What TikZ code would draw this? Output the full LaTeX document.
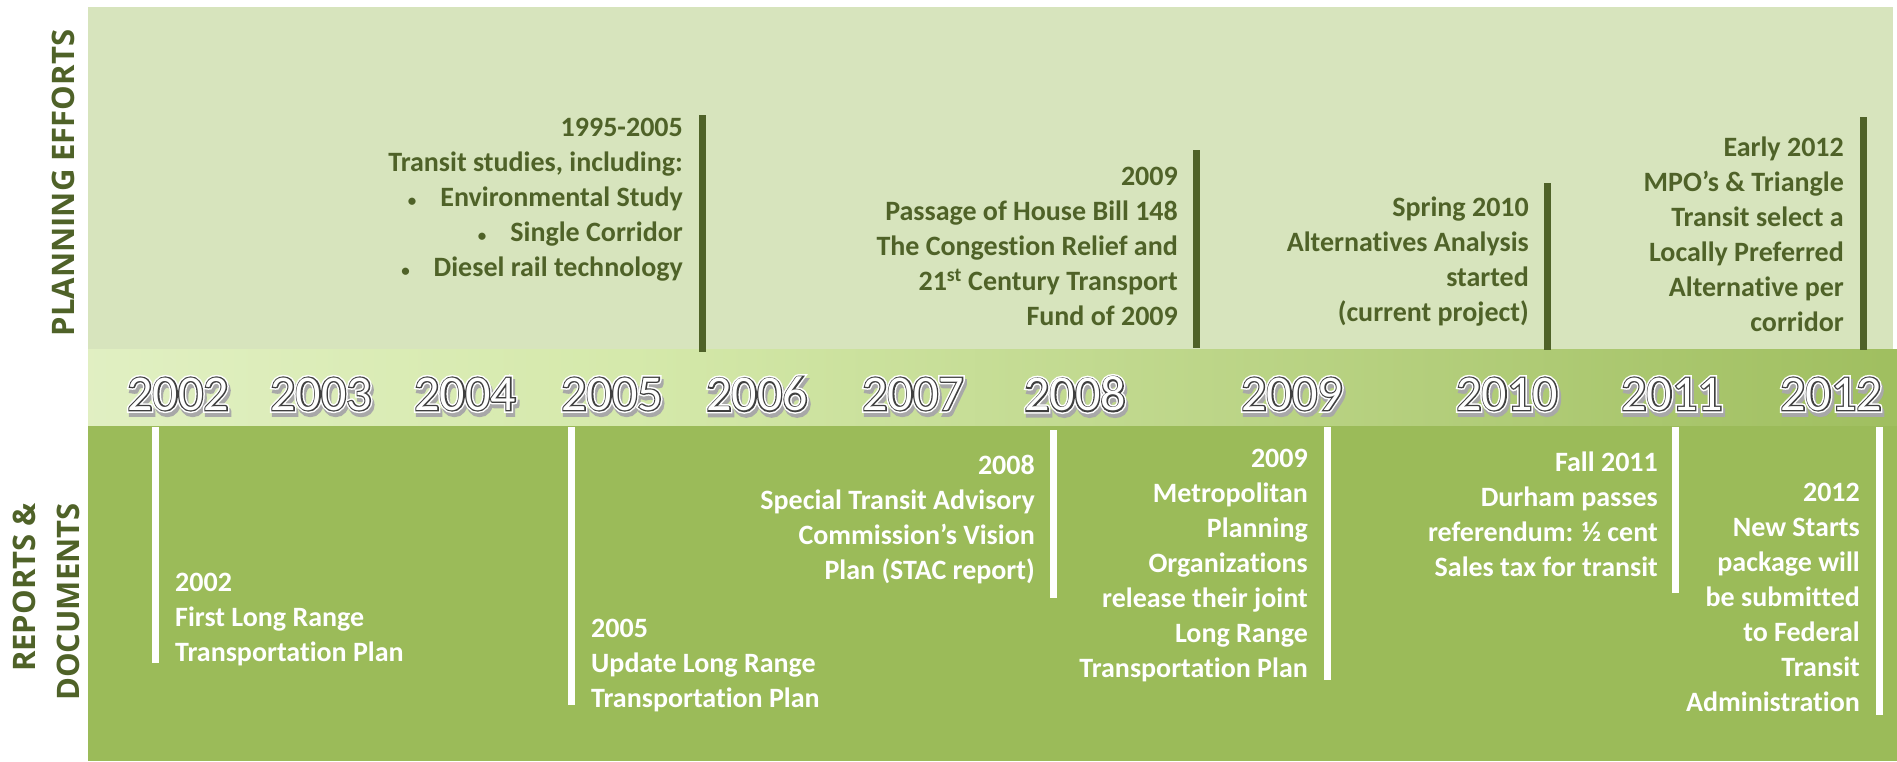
\documentclass[tikz,border=0pt]{standalone}
\usepackage{fontspec}
\setmainfont{Carlito}[Ligatures=NoCommon]
\newfontfamily\sidefont{Open Sans}
% the year figures: plain, a thin rim and a wide halo
\newfontfamily\yrplain{Carlito}
\newfontfamily\yrrim{Carlito}[FakeBold=5]
\newfontfamily\yrhalo{Carlito}[FakeBold=11]
\usepackage{xcolor}
\usepackage{tikz}
\usetikzlibrary{positioning}
\definecolor{moss}{HTML}{4F6228}
\definecolor{sage}{HTML}{D7E4BD}
\definecolor{leaf}{HTML}{9BBB59}
\definecolor{bandlo}{HTML}{F4FAE9}
\definecolor{bandmid}{HTML}{D5E9AB}
\definecolor{yrink}{HTML}{3F3F3F}
\definecolor{yrshade}{HTML}{A8A8A8}
\pgfdeclarehorizontalshading{bandfade}{100bp}{color(0bp)=(bandlo); color(40bp)=(bandmid); color(78bp)=(leaf); color(100bp)=(leaf)}
\tikzset{
  planbar/.style={draw=moss, line width=7pt},
  docbar/.style={draw=white, line width=7pt},
  plantxt/.style={text=moss, font=\fontsize{28}{35}\selectfont\bfseries,
                  inner sep=0pt, align=right},
  doctxt/.style={text=white, font=\fontsize{28}{35}\selectfont\bfseries,
                 inner sep=0pt},
  side/.style={text=moss, font=\sidefont\fontsize{31}{44}\selectfont\bfseries,
               rotate=90, inner sep=0pt},
  yr/.style={inner sep=0pt},
}
\newcommand\itembul{{\fontsize{17}{17}\selectfont\textbullet}\hspace{24pt}}

\begin{document}
\begin{tikzpicture}[x=1pt, y=-1pt]
\useasboundingbox (0,0) rectangle (1897,761);
% the three bands
\fill[sage] (88,7) rectangle (1893,349);
\shade[shading=bandfade] (88,349) rectangle (1897,426);
\fill[leaf] (88,426) rectangle (1897,761);

\node[side] (plan) at (63,183) {PLANNING EFFORTS};
\node[side, align=right] (docs) at (46,602) {REPORTS \&\\DOCUMENTS};

% years: shadow, white halo, dark rim, white figures
\foreach \yr/\xc in {2002/178, 2003/321, 2004/465, 2005/612, 2006/757,
    2007/913, 2008/1075, 2009/1292, 2010/1507, 2011/1672, 2012/1831} {
  \node[yr, text=yrshade, font=\yrhalo\fontsize{50}{60}\selectfont]
    (ys\yr) at (\xc+2,398) {\yr};
  \node[yr, text=white, font=\yrhalo\fontsize{50}{60}\selectfont]
    (yh\yr) at (\xc,394) {\yr};
  \node[yr, text=yrink, font=\yrrim\fontsize{50}{60}\selectfont]
    (yr\yr) at (\xc,394) {\yr};
  \node[yr, text=white, font=\yrplain\fontsize{50}{60}\selectfont]
    (y\yr) at (\xc,394) {\yr};
}

% markers above and below the band
\foreach \n/\xb/\ya/\yb in {p05/702/115/352, p09/1196/150/348,
    p10/1547/183/350, p12/1863/117/350} {
  \coordinate (\n-t) at (\xb,\ya);
  \coordinate (\n-b) at (\xb,\yb);
  \draw[planbar] (\n-t) -- (\n-b);
}
\foreach \n/\xb/\ya/\yb in {d02/155/427/663, d05/571/427/705,
    d08/1053/430/598, d09/1327/427/680, d11/1675/427/593, d12/1879/427/715} {
  \coordinate (\n-t) at (\xb,\ya);
  \coordinate (\n-b) at (\xb,\yb);
  \draw[docbar] (\n-t) -- (\n-b);
}

% planning efforts
\node[plantxt, below left=3pt and 19pt of p05-t] (n95)
  {1995-2005\\Transit studies, including:\\
   \itembul Environmental Study\\
   \itembul Single Corridor\\
   \itembul Diesel rail technology};
\node[plantxt, below left=17pt and 18pt of p09-t] (n09)
  {2009\\Passage of House Bill 148\\The Congestion Relief and\\
   21\textsuperscript{st} Century Transport\\Fund of 2009};
\node[plantxt, below left=14pt and 18pt of p10-t] (n10)
  {Spring 2010\\Alternatives Analysis\\started\\(current project)};
\node[plantxt, below left=20pt and 19pt of p12-t] (n12)
  {Early 2012\\MPO’s \& Triangle\\Transit select a\\Locally Preferred\\
   Alternative per\\corridor};

% reports and documents
\node[doctxt, align=left, below right=146pt and 20pt of d02-t] (r02)
  {2002\\First Long Range\\Transportation Plan};
\node[doctxt, align=left, below right=192pt and 20pt of d05-t] (r05)
  {2005\\Update Long Range\\Transportation Plan};
\node[doctxt, align=right, below left=25pt and 18pt of d08-t] (r08)
  {2008\\Special Transit Advisory\\Commission’s Vision\\Plan (STAC report)};
\node[doctxt, align=right, below left=22pt and 19pt of d09-t] (r09)
  {2009\\Metropolitan\\Planning\\Organizations\\release their joint\\
   Long Range\\Transportation Plan};
\node[doctxt, align=right, below left=25pt and 17pt of d11-t] (r11)
  {Fall 2011\\Durham passes\\referendum: ½ cent\\Sales tax for transit};
\node[doctxt, align=right, below left=56pt and 19pt of d12-t] (r12)
  {2012\\New Starts\\package will\\be submitted\\to Federal\\Transit\\
   Administration};
\end{tikzpicture}
\end{document}
